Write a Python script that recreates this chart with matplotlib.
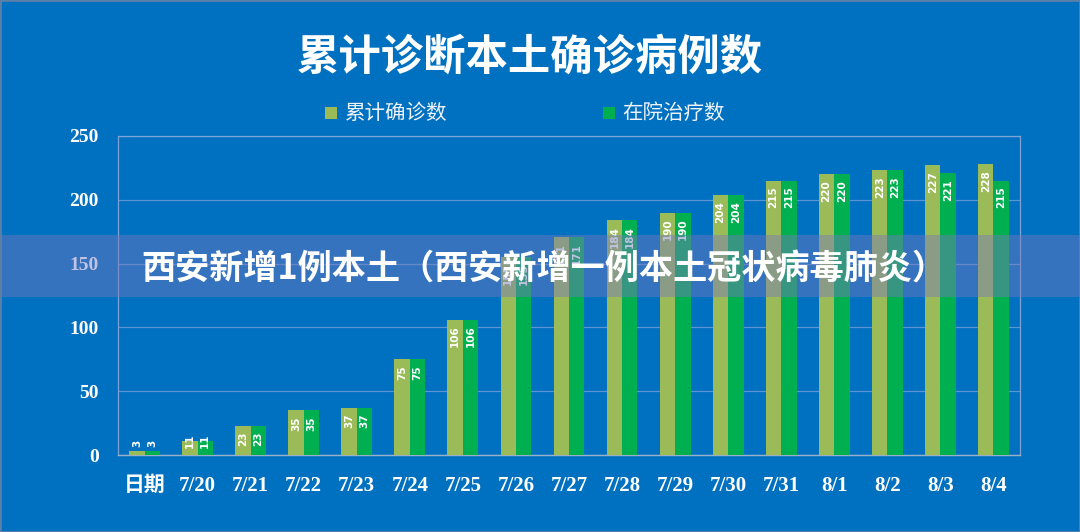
import matplotlib
matplotlib.use("Agg")
import matplotlib.pyplot as plt
from matplotlib.patches import Rectangle
import numpy as np

categories = ["日期", "7/20", "7/21", "7/22", "7/23", "7/24", "7/25", "7/26", "7/27",
              "7/28", "7/29", "7/30", "7/31", "8/1", "8/2", "8/3", "8/4"]
cumulative = [3, 11, 23, 35, 37, 75, 106, 155, 171, 184, 190, 204, 215, 220, 223, 227, 228]
in_hospital = [3, 11, 23, 35, 37, 75, 106, 155, 171, 184, 190, 204, 215, 220, 223, 221, 215]
series_names = ["累计确诊数", "在院治疗数"]
title = "累计诊断本土确诊病例数"
banner = "西安新增1例本土（西安新增一例本土冠状病毒肺炎）"
yticks = [0, 50, 100, 150, 200, 250]

BG = "#0070C0"
C1 = "#9BBB59"
C2 = "#00B050"
CJK = ["Noto Sans CJK SC", "DejaVu Sans"]
SERIF = ["Liberation Serif", "Noto Sans CJK SC"]
NARROW = ["Liberation Sans Narrow", "DejaVu Sans"]

W, H = 1080, 532
fig = plt.figure(figsize=(W / 100, H / 100), dpi=100)
fig.patch.set_facecolor(BG)

L, R, T, B = 118, 1020, 136, 455
ax = fig.add_axes([L / W, 1 - B / H, (R - L) / W, (B - T) / H])
ax.set_facecolor(BG)

x = np.arange(len(categories))
bw = 0.29
b1 = ax.bar(x - bw / 2, cumulative, bw, color=C1, zorder=3)
b2 = ax.bar(x + bw / 2, in_hospital, bw, color=C2, zorder=3)

ax.set_xlim(-0.5, len(categories) - 0.5)
ax.set_ylim(0, 250)
ax.set_yticks(yticks)
ax.set_yticklabels([str(v) for v in yticks])
ax.set_xticks(x)
ax.set_xticklabels(categories)
for lab in ax.get_xticklabels():
    lab.set_family(SERIF)
    lab.set_fontsize(15)
    lab.set_fontweight("bold")
    lab.set_color("white")
for lab in ax.get_yticklabels():
    lab.set_family(SERIF)
    lab.set_fontsize(14)
    lab.set_fontweight("bold")
    lab.set_color("white")
ax.tick_params(axis="both", length=0)
ax.tick_params(axis="x", pad=15)
ax.tick_params(axis="y", pad=14)

ax.grid(axis="y", color="#5B95D3", linewidth=0.9, zorder=1)
for side in ["left", "top", "right"]:
    ax.spines[side].set_color("#7FA3D6")
    ax.spines[side].set_linewidth(0.9)
ax.spines["bottom"].set_color("#9AAFC8")
ax.spines["bottom"].set_linewidth(1.0)

def add_labels(bars, vals):
    for rect, v in zip(bars, vals):
        cx = rect.get_x() + rect.get_width() / 2
        if v < 8:
            va, off = "bottom", 4
        elif v < 20:
            va, off = "center", 0
        else:
            va, off = "top", -6
        ax.annotate(str(v), (cx, v), xytext=(0, off), textcoords="offset pixels",
                    rotation=90, ha="center", va=va, fontsize=7.5,
                    fontweight="bold", color="white", family=NARROW, zorder=4)

add_labels(b1, cumulative)
add_labels(b2, in_hospital)

# title
fig.text(530 / W, 1 - 58 / H, title, ha="center", va="center", fontsize=30.5,
         fontweight="heavy", color="white", family=CJK)

# legend
for mx, tx, name, col in [(331, 345, series_names[0], C1), (609, 622, series_names[1], C2)]:
    fig.patches.append(Rectangle(((mx - 6) / W, 1 - 119 / H), 12 / W, 12 / H,
                                 transform=fig.transFigure, facecolor=col,
                                 edgecolor="none", figure=fig))
    fig.text(tx / W, 1 - 113 / H, name, ha="left", va="center", fontsize=14.8,
             color="#EEF3FA", family=CJK)

# banner overlay
fig.patches.append(Rectangle((0, 1 - 297 / H), 1, 62 / H, transform=fig.transFigure,
                             facecolor=(0.47, 0.47, 0.75), alpha=0.45,
                             edgecolor="none", zorder=10, figure=fig))
fig.text(544 / W, 1 - 268 / H, banner, ha="center", va="center", fontsize=24.6,
         fontweight="heavy", color="white", family=CJK, zorder=11)

# outer frame
fig.patches.append(Rectangle((0, 0), 1, 1, transform=fig.transFigure,
                             facecolor="none", edgecolor="#5C7FA8", linewidth=2,
                             zorder=12, figure=fig))

fig.savefig("out.png", dpi=100, facecolor=fig.get_facecolor())
